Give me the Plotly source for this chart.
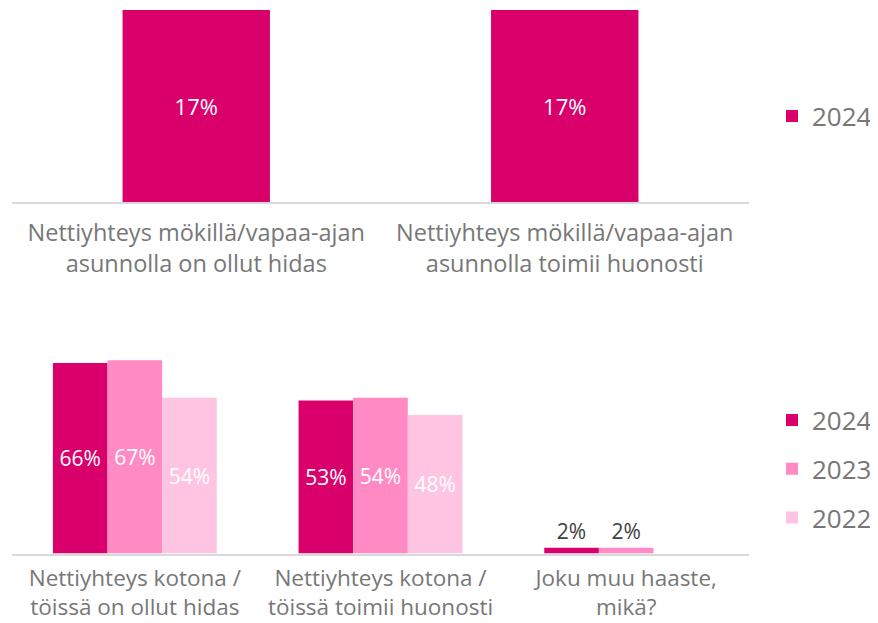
import plotly.graph_objects as go

# page body adds an 8px margin; the figure is sized/placed to compensate
OFF = 8
W, H = 878 - OFF, 623 - OFF

# ---- data ----
top_categories = [
    "Nettiyhteys mökillä/vapaa-ajan<br>asunnolla on ollut hidas",
    "Nettiyhteys mökillä/vapaa-ajan<br>asunnolla toimii huonosti",
]
top_2024 = [17, 17]

bottom_categories = [
    "Nettiyhteys kotona /<br>töissä on ollut hidas",
    "Nettiyhteys kotona /<br>töissä toimii huonosti",
    "Joku muu haaste,<br>mikä?",
]
bottom_2024 = [66, 53, 2]
bottom_2023 = [67, 54, 2]
bottom_2022 = [54, 48, None]

years = ["2024", "2023", "2022"]
colors = {"2024": "#D9006C", "2023": "#FF8AC4", "2022": "#FFC4E1"}

FONT = "Open Sans"
GRAY = "#777777"


def px_x(p):
    return (p - OFF) / W


def px_y(p):
    return 1 - (p - OFF) / H


def positions(vals):
    return ["inside" if (v is not None and v >= 10) else "outside" for v in vals]


fig = go.Figure()

fig.add_trace(go.Bar(
    x=top_categories, y=top_2024, name="2024",
    marker=dict(color=colors["2024"], line=dict(width=0)),
    width=0.4,
    xaxis="x", yaxis="y", legend="legend",
    texttemplate="%{y}%", textposition="inside", insidetextanchor="middle",
    textangle=0, constraintext="none",
    insidetextfont=dict(color="white", size=22, family=FONT),
    hoverinfo="skip",
))

for yr, vals in zip(years, [bottom_2024, bottom_2023, bottom_2022]):
    fig.add_trace(go.Bar(
        x=bottom_categories, y=vals, name=yr,
        marker=dict(color=colors[yr], line=dict(width=0)),
        xaxis="x2", yaxis="y2", legend="legend2", legendgroup=yr,
        texttemplate="%{y}%", textposition=positions(vals),
        insidetextanchor="middle", textangle=0, constraintext="none",
        insidetextfont=dict(color="white", size=21, family=FONT),
        outsidetextfont=dict(color="#404040", size=21, family=FONT),
        cliponaxis=False,
        hoverinfo="skip",
    ))

axis_common = dict(
    showline=True, linecolor="#D9D9D9", linewidth=2,
    ticks="", showgrid=False, zeroline=False,
)

fig.update_layout(
    width=W, height=H,
    margin=dict(l=0, r=0, t=0, b=0, autoexpand=False),
    paper_bgcolor="white", plot_bgcolor="white",
    font=dict(family=FONT, color=GRAY),
    barmode="group", bargap=0.333, bargroupgap=0,
    xaxis=dict(domain=[px_x(12), px_x(749)], anchor="y",
               tickfont=dict(size=23.5, color=GRAY, family=FONT),
               ticklabelstandoff=9, **axis_common),
    yaxis=dict(domain=[px_y(202), px_y(10)], range=[0, 17], visible=False,
               anchor="x"),
    xaxis2=dict(domain=[px_x(12), px_x(749)], anchor="y2",
                tickfont=dict(size=22.5, color=GRAY, family=FONT),
                ticklabelstandoff=3, **axis_common),
    yaxis2=dict(domain=[px_y(553.5), px_y(351.5)], range=[0, 70], visible=False,
                anchor="x2"),
    legend=dict(x=px_x(772), y=px_y(116), xanchor="left", yanchor="middle",
                font=dict(size=26, color=GRAY, family=FONT),
                bgcolor="rgba(0,0,0,0)"),
    legend2=dict(x=px_x(772), y=px_y(469), xanchor="left", yanchor="middle",
                 font=dict(size=26, color=GRAY, family=FONT),
                 traceorder="grouped", tracegroupgap=12,
                 bgcolor="rgba(0,0,0,0)"),
    showlegend=True,
)

fig.write_html("out.html")
